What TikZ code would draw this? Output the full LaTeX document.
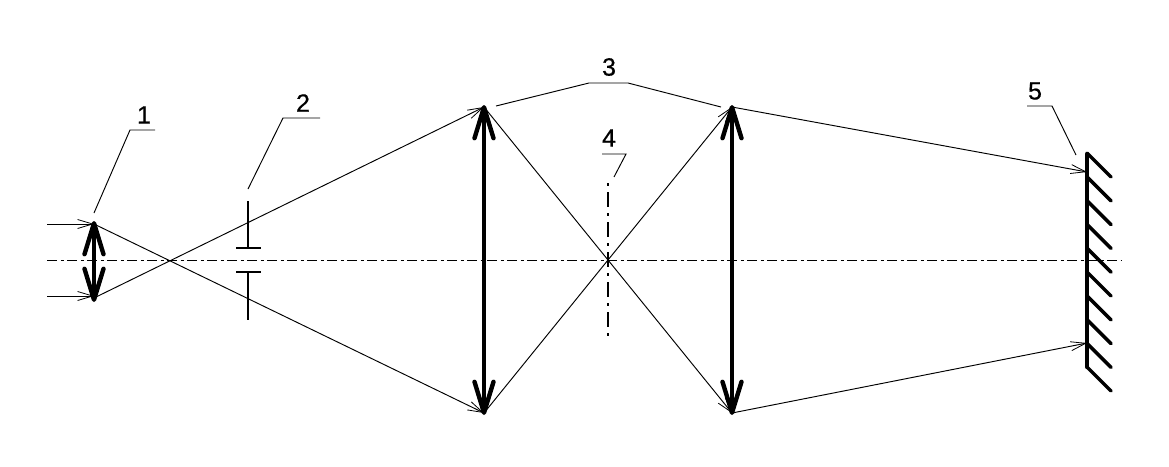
\documentclass[tikz,border=0pt]{standalone}
\usepackage{fontspec}
\setmainfont{Liberation Sans}
\newfontfamily\labelfont[FakeBold=0.6]{Liberation Sans}
\usetikzlibrary{arrows.meta}
\tikzset{
  x=1pt,y=-1pt,
  thin ray/.style={line width=0.95pt,black},
  ray arrow/.style={thin ray,-{Straight Barb[length=15pt,width=9pt,line width=0.8pt]}},
  lens/.style={line width=4.4pt,{Straight Barb[length=31pt,width=19pt,line width=4.4pt,round]}-{Straight Barb[length=31pt,width=19pt,line width=4.4pt,round]}},
  axis line/.style={line width=1pt,dash pattern=on 10pt off 3.5pt on 3pt off 3.5pt},
  stop line/.style={line width=2.3pt},
  focal line/.style={line width=2.6pt,dash pattern=on 3pt off 6pt on 15pt off 6pt},
  leader/.style={line width=0.95pt},
  mirror/.style={line width=4.2pt,line cap=round},
  hatch/.style={line width=3.5pt,line cap=round},
  label text/.style={font=\labelfont\fontsize{25pt}{25pt}\selectfont,inner sep=0pt},
}
\begin{document}
\begin{tikzpicture}
\useasboundingbox[fill=white] (0,0) rectangle (1169,466);
% anchors
\coordinate (axL) at (47,260);
\coordinate (axR) at (1122,260);
\coordinate (inT) at (47,224);
\coordinate (inB) at (47,296);
\coordinate (l1T) at (94,224);
\coordinate (l1I) at (94,296);
\coordinate (l1B) at (94,298);
\coordinate (l2T) at (484,107);
\coordinate (l2B) at (484,413);
\coordinate (l3T) at (732,107);
\coordinate (l3B) at (732,413);
\coordinate (mT) at (1087,172);
\coordinate (mB) at (1087,343);
\coordinate (fT) at (608,183);
\coordinate (fB) at (608,336);
% axis
\draw[axis line] (axL) -- (axR);
\draw[focal line] (fT) -- (fB);
% rays
\draw[ray arrow] (inT) -- (l1T);
\draw[ray arrow] (inB) -- (l1I);
\draw[ray arrow] (l1T) -- (l2B);
\draw[ray arrow] (l1B) -- (l2T);
\draw[ray arrow] (l2T) -- (l3B);
\draw[ray arrow] (l2B) -- (l3T);
\draw[ray arrow] (l3T) -- (mT);
\draw[ray arrow] (l3B) -- (mB);
% lenses
\draw[lens] (94,302) -- (94,221);
\draw[lens] (484,105) -- (484,415);
\draw[lens] (732,105) -- (732,415);
% stop
\draw[stop line] (248,201) -- (248,248);
\draw[stop line] (236,248) -- (261,248);
\draw[stop line] (236,272) -- (261,272);
\draw[stop line] (248,272) -- (248,320);
% mirror
\draw[mirror] (1087,154) -- (1087,367);
\foreach \y in {153,176.8,200.6,224.4,248.2,272,295.8,319.6,343.4,367}
  \draw[hatch] (1087,\y) -- ++(24,24);
% labels
\node[label text] (n1) at (144,115) {1};
\node[label text] (n2) at (303,103) {2};
\node[label text] (n3) at (609,67) {3};
\node[label text] (n4) at (609,138) {4};
\node[label text] (n5) at (1035,91) {5};
% leaders
\draw[leader] (94,213) -- (130,130) -- (155,130);
\draw[leader] (248,189) -- (283,118) -- (320,118);
\draw[leader] (496,106) -- (589,83) -- (628,83) -- (721,107);
\draw[leader] (602,154) -- (626,154) -- (614,177);
\draw[leader] (1027,106) -- (1052,106) -- (1076,155);
\end{tikzpicture}
\end{document}
